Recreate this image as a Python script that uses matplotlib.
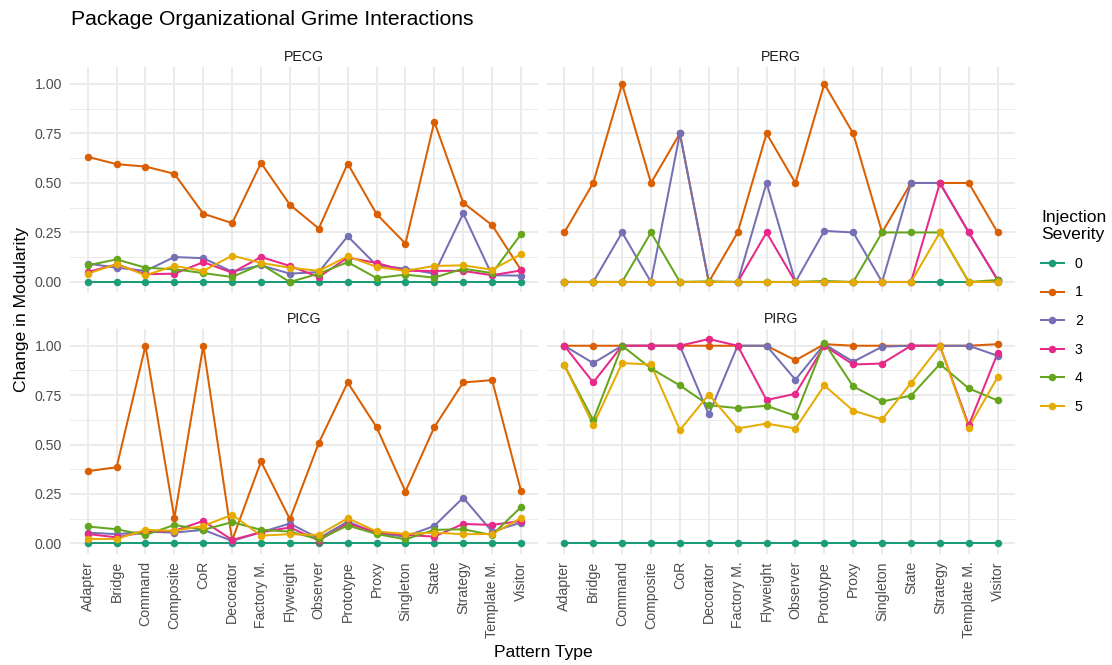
import matplotlib
matplotlib.use("Agg")
import matplotlib.pyplot as plt
from matplotlib.lines import Line2D
import numpy as np

plt.rcParams['font.family'] = ['Liberation Sans', 'DejaVu Sans']

# pattern types on the x axis
patterns = ["Adapter", "Bridge", "Command", "Composite", "CoR", "Decorator",
            "Factory M.", "Flyweight", "Observer", "Prototype", "Proxy",
            "Singleton", "State", "Strategy", "Template M.", "Visitor"]
severities = ["0", "1", "2", "3", "4", "5"]
panels = ["PECG", "PERG", "PICG", "PIRG"]

# change in modularity, one list per severity (0..5) for each panel
pecg_0 = [0.0] * 16
pecg_1 = [0.632, 0.595, 0.583, 0.546, 0.345, 0.297, 0.601, 0.390, 0.270, 0.598, 0.343, 0.194, 0.809, 0.400, 0.287, 0.061]
pecg_2 = [0.093, 0.072, 0.056, 0.126, 0.120, 0.052, 0.084, 0.042, 0.050, 0.231, 0.084, 0.067, 0.042, 0.346, 0.034, 0.032]
pecg_3 = [0.050, 0.089, 0.039, 0.042, 0.100, 0.047, 0.126, 0.081, 0.025, 0.123, 0.096, 0.056, 0.056, 0.056, 0.034, 0.058]
pecg_4 = [0.084, 0.114, 0.072, 0.064, 0.045, 0.025, 0.089, 0.000, 0.042, 0.100, 0.020, 0.037, 0.022, 0.067, 0.045, 0.241]
pecg_5 = [0.042, 0.090, 0.034, 0.081, 0.056, 0.133, 0.096, 0.072, 0.056, 0.130, 0.076, 0.056, 0.081, 0.084, 0.062, 0.140]

perg_0 = [0.0] * 16
perg_1 = [0.25, 0.50, 1.00, 0.50, 0.75, 0.00, 0.25, 0.75, 0.50, 1.00, 0.75, 0.25, 0.50, 0.50, 0.50, 0.25]
perg_2 = [0.00, 0.00, 0.25, 0.00, 0.75, 0.00, 0.00, 0.50, 0.00, 0.258, 0.25, 0.00, 0.50, 0.50, 0.25, 0.01]
perg_3 = [0.00, 0.00, 0.00, 0.00, 0.00, 0.00, 0.00, 0.25, 0.00, 0.00, 0.00, 0.00, 0.00, 0.50, 0.25, 0.01]
perg_4 = [0.00, 0.00, 0.00, 0.25, 0.00, 0.003, 0.00, 0.00, 0.00, 0.005, 0.00, 0.25, 0.25, 0.25, 0.00, 0.01]
perg_5 = [0.00, 0.00, 0.00, 0.00, 0.00, 0.00, 0.00, 0.00, 0.00, 0.00, 0.00, 0.00, 0.00, 0.25, 0.00, 0.00]

picg_0 = [0.0] * 16
picg_1 = [0.365, 0.385, 1.000, 0.127, 1.000, 0.015, 0.414, 0.122, 0.508, 0.814, 0.588, 0.262, 0.588, 0.814, 0.826, 0.265]
picg_2 = [0.054, 0.046, 0.059, 0.054, 0.068, 0.012, 0.056, 0.100, 0.025, 0.110, 0.050, 0.034, 0.088, 0.231, 0.059, 0.105]
picg_3 = [0.047, 0.030, 0.058, 0.063, 0.113, 0.017, 0.056, 0.080, 0.014, 0.100, 0.056, 0.042, 0.034, 0.098, 0.093, 0.113]
picg_4 = [0.085, 0.071, 0.042, 0.093, 0.068, 0.107, 0.068, 0.059, 0.020, 0.090, 0.047, 0.020, 0.068, 0.071, 0.042, 0.183]
picg_5 = [0.022, 0.022, 0.068, 0.063, 0.088, 0.144, 0.039, 0.046, 0.042, 0.127, 0.060, 0.047, 0.054, 0.046, 0.047, 0.127]

pirg_0 = [0.0] * 16
pirg_1 = [1.000, 1.000, 1.000, 1.000, 1.000, 1.000, 1.000, 1.000, 0.926, 1.008, 1.000, 1.000, 1.000, 1.000, 1.000, 1.008]
pirg_2 = [1.000, 0.912, 1.000, 1.000, 1.000, 0.652, 1.000, 1.000, 0.828, 1.008, 0.919, 0.995, 1.000, 1.000, 1.000, 0.949]
pirg_3 = [1.000, 0.814, 1.000, 1.000, 1.000, 1.034, 1.000, 0.725, 0.757, 1.000, 0.905, 0.910, 1.000, 1.000, 0.598, 0.963]
pirg_4 = [0.902, 0.623, 1.000, 0.885, 0.799, 0.699, 0.684, 0.696, 0.645, 1.015, 0.794, 0.718, 0.747, 0.907, 0.784, 0.723]
pirg_5 = [0.902, 0.598, 0.912, 0.905, 0.573, 0.753, 0.581, 0.606, 0.581, 0.799, 0.671, 0.627, 0.811, 1.000, 0.586, 0.841]

data = {
    "PECG": [pecg_0, pecg_1, pecg_2, pecg_3, pecg_4, pecg_5],
    "PERG": [perg_0, perg_1, perg_2, perg_3, perg_4, perg_5],
    "PICG": [picg_0, picg_1, picg_2, picg_3, picg_4, picg_5],
    "PIRG": [pirg_0, pirg_1, pirg_2, pirg_3, pirg_4, pirg_5],
}

# Dark2 palette
colors = ["#1B9E77", "#D95F02", "#7570B3", "#E7298A", "#66A61E", "#E6AB02"]

# style variables
W, H = 1112, 665
lin = 1.45          # line width
ms = 5.4            # marker size
font_tick = 10.2
font_axl = 12.6
font_ttl = 15.2
grid_col = "#EBEBEB"
tick_col = "#4D4D4D"

# shared y range with 5% expansion like ggplot
allv = np.concatenate([np.array(s) for p in panels for s in data[p]])
rng = allv.max() - allv.min()
ylo, yhi = allv.min() - 0.05 * rng, allv.max() + 0.05 * rng

fig = plt.figure(figsize=(W / 100, H / 100), dpi=100)

# panel boxes in pixels: left, right, top, bottom
boxes = {
    "PECG": (70.4, 538.3, 67.0, 292.2),
    "PERG": (547.0, 1015.0, 67.0, 292.2),
    "PICG": (70.4, 538.3, 328.8, 553.5),
    "PIRG": (547.0, 1015.0, 328.8, 553.5),
}

x = np.arange(len(patterns))
for i, p in enumerate(panels):
    l, r, t, b = boxes[p]
    ax = fig.add_axes([l / W, 1 - b / H, (r - l) / W, (b - t) / H])
    for s, vals in enumerate(data[p]):
        ax.plot(x, vals, color=colors[s], lw=lin, zorder=2, solid_capstyle='round')
    for s, vals in enumerate(data[p]):
        ax.plot(x, vals, 'o', color=colors[s], ms=ms, mew=0, zorder=3)

    ax.set_xlim(-0.6, len(patterns) - 0.4)
    ax.set_ylim(ylo, yhi)
    ax.set_yticks([0, 0.25, 0.5, 0.75, 1.0])
    ax.set_yticks([0.125, 0.375, 0.625, 0.875], minor=True)
    ax.set_xticks(x)
    ax.grid(which='major', color=grid_col, lw=1.4)
    ax.grid(which='minor', axis='y', color=grid_col, lw=0.7)
    ax.set_axisbelow(True)
    for sp in ax.spines.values():
        sp.set_visible(False)
    ax.tick_params(which='both', length=0, colors=tick_col, labelsize=font_tick)
    ax.tick_params(axis='y', pad=6.0)
    ax.tick_params(axis='x', pad=5.5)

    if i in (0, 2):
        ax.set_yticklabels(["0.00", "0.25", "0.50", "0.75", "1.00"])
    else:
        ax.set_yticklabels([])
    if i in (2, 3):
        ax.set_xticklabels(patterns, rotation=90, va='top', ha='center')
    else:
        ax.set_xticklabels([])

    ax.set_title(p, fontsize=font_tick, color="#1A1A1A", pad=4.4)

fig.text(71.4 / W, 1 - 25 / H, "Package Organizational Grime Interactions",
         fontsize=font_ttl, va='baseline', ha='left')
fig.text(543 / W, 1 - 653 / H, "Pattern Type", fontsize=font_axl, ha='center', va='center')
fig.text(22 / W, 1 - 310 / H, "Change in Modularity", fontsize=font_axl,
         rotation=90, ha='center', va='center')

handles = [Line2D([], [], color=c, lw=lin, marker='o', ms=ms, mew=0) for c in colors]
fig.legend(handles, severities, title="Injection\nSeverity", loc='upper left',
           bbox_to_anchor=(1031 / W, 1 - 200 / H), frameon=False,
           fontsize=font_tick, title_fontsize=font_axl, handlelength=1.6,
           handletextpad=0.8, labelspacing=1.03, alignment='left', borderpad=0.2)

plt.savefig("out.png", dpi=100)
